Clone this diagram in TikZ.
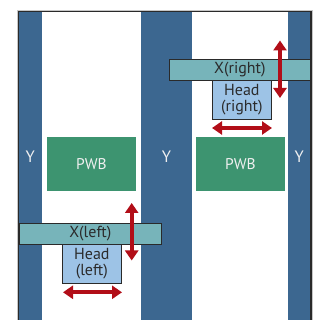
\documentclass[tikz,border=0pt]{standalone}
\usepackage{fontspec}
\setmainfont{PT Sans}
\usetikzlibrary{arrows.meta}
\definecolor{ybar}{HTML}{3C6790}
\definecolor{pwbg}{HTML}{3D9470}
\definecolor{xteal}{HTML}{77B4BA}
\definecolor{headb}{HTML}{9DC3E6}
\definecolor{arr}{HTML}{B20E18}
\definecolor{txt}{HTML}{2B2B2B}
\definecolor{edge}{HTML}{2A2A2A}
\tikzset{
  rbox/.style={rectangle, inner sep=0pt, outer sep=0pt},
  ybarbox/.style={rbox, fill=ybar, minimum width=#1, minimum height=312pt},
  pwbbox/.style={rbox, fill=pwbg, minimum width=89pt, minimum height=54pt, text=white!94!black, font=\fontsize{15.5}{17}\selectfont},
  xbox/.style={rbox, fill=xteal, draw=edge, line width=0.8pt, minimum height=20.7pt, text=txt, font=\fontsize{16}{17}\selectfont},
  headbox/.style={rbox, fill=headb, draw=edge, line width=0.8pt, minimum width=59.7pt, minimum height=39pt, text=txt, align=center, font=\fontsize{16}{16.5}\selectfont},
  ylabel/.style={text=white!94!black, font=\fontsize{16.5}{17}\selectfont},
  darrow/.style={draw=arr, line width=3.6pt, {Triangle[length=10pt,width=13pt]}-{Triangle[length=10pt,width=13pt]}, shorten <=0pt, shorten >=0pt},
}
\begin{document}
\begin{tikzpicture}[x=1pt,y=-1pt]
\useasboundingbox (0,0) rectangle (324,320);
\fill[white] (0,0) rectangle (324,320);
% bars
\node[ybarbox=22.7pt] (barL) at (30.35,168) {};
\node[ybarbox=51pt] (barM) at (166.5,168) {};
\node[ybarbox=22.6pt] (barR) at (299.3,168) {};
% frame
\draw[gray!45, line width=1.2pt] (17.4,340) -- (17.4,10.4) -- (312.2,10.4) -- (312.2,340);
\draw[edge, line width=1.3pt] (18.6,340) -- (18.6,11.6) -- (311,11.6) -- (311,340);
% PWB
\node[pwbbox] (pwbL) at (91.5,164) {PWB};
\node[pwbbox] (pwbR) at (240.5,164) {PWB};
% Y labels
\node[ylabel] (yL) at (barL.center |- 0,157) {Y};
\node[ylabel] (yM) at (barM.center |- 0,157) {Y};
\node[ylabel] (yR) at (barR.center |- 0,157) {Y};
% right head
\node[headbox] (headR) at (241.85,99.5) {Head\\(right)};
\node[xbox, minimum width=141.2pt] (xR) at (239.9,69.65) {X(right)};
% left head
\node[headbox] (headL) at (91.85,263.8) {Head\\(left)};
\node[xbox, minimum width=142pt] (xL) at (90.3,233.8) {X(left)};
% arrow endpoints
\coordinate (vRt) at (280,40.5);
\coordinate (vRb) at (280,98);
\coordinate (hRl) at (212,128);
\coordinate (hRr) at (272,128);
\coordinate (vLt) at (131.7,203);
\coordinate (vLb) at (131.7,260.5);
\coordinate (hLl) at (63,292.3);
\coordinate (hLr) at (122,292.3);
\draw[darrow] (vRt) -- (vRb);
\draw[darrow] (hRl) -- (hRr);
\draw[darrow] (vLt) -- (vLb);
\draw[darrow] (hLl) -- (hLr);
\end{tikzpicture}
\end{document}
